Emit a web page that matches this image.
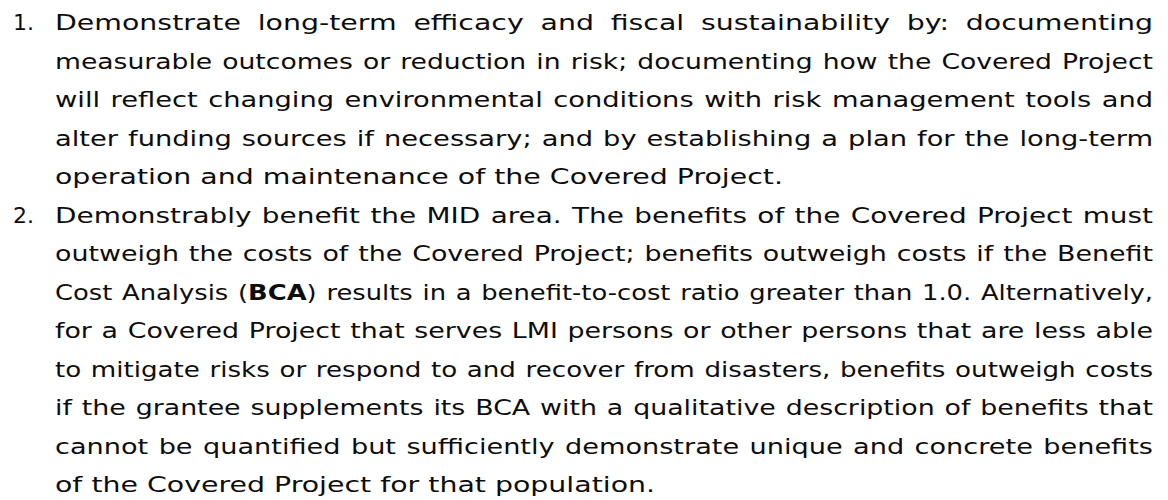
<!DOCTYPE html>
<html>
<head>
<meta charset="utf-8">
<script src="https://cdn.jsdelivr.net/npm/chart.js"></script>
<style>
  html, body { margin: 0; padding: 0; background: #fff; }
  body { width: 1168px; height: 500px; overflow: hidden; }
  #page {
    position: relative;
    padding-top: 4px;
    font-family: "DejaVu Sans", sans-serif;
    font-size: 22px;
    line-height: 38.5px;
    color: #0d0d0d;
  }
  .item { position: relative; }
  .num {
    position: absolute;
    left: 0;
    width: 34px;
    text-align: right;
  }
  .line {
    margin-left: 55px;
    white-space: nowrap;
    text-align: justify;
    text-align-last: justify;
    transform-origin: 0 0;
  }
  .line.last { text-align-last: left; }
  .probe { white-space: nowrap; }
</style>
</head>
<body>
<div id="page"></div>

<script>
var itemNumbers = ['1.', '2.'];

var item1Lines = [
    'Demonstrate long-term efficacy and fiscal sustainability by: documenting',
    'measurable outcomes or reduction in risk; documenting how the Covered Project',
    'will reflect changing environmental conditions with risk management tools and',
    'alter funding sources if necessary; and by establishing a plan for the long-term',
    'operation and maintenance of the Covered Project.'
];

var item2Lines = [
    'Demonstrably benefit the MID area. The benefits of the Covered Project must',
    'outweigh the costs of the Covered Project; benefits outweigh costs if the Benefit',
    'Cost Analysis (BCA) results in a benefit-to-cost ratio greater than 1.0. Alternatively,',
    'for a Covered Project that serves LMI persons or other persons that are less able',
    'to mitigate risks or respond to and recover from disasters, benefits outweigh costs',
    'if the grantee supplements its BCA with a qualitative description of benefits that',
    'cannot be quantified but sufficiently demonstrate unique and concrete benefits',
    'of the Covered Project for that population.'
];

// only the first "(BCA)" is bold in the source
var boldTerms = ['(BCA)'];

var TEXT_W = 1098;   // 55px .. 1153px

function toHtml(text) {
    var html = text;
    boldTerms.forEach(function (t) {
        var inner = t.replace('(', '').replace(')', '');
        html = html.replace(t, '(<b>' + inner + '</b>)');
    });
    return html;
}

function measure(page, html) {
    var probe = document.createElement('span');
    probe.className = 'probe';
    probe.innerHTML = html;
    page.appendChild(probe);
    var w = probe.getBoundingClientRect().width;
    page.removeChild(probe);
    return w;
}

var page = document.getElementById('page');

// the scan uses a wide geometric face; stretch the glyphs so the closing
// line of item 1 spans about 728px as it does in the scan
var stretch = 728 / measure(page, item1Lines[4]);

function addItem(num, lines) {
    var item = document.createElement('div');
    item.className = 'item';

    var n = document.createElement('div');
    n.className = 'num';
    n.textContent = num;
    item.appendChild(n);

    lines.forEach(function (text, i) {
        var last = i === lines.length - 1;
        var html = toHtml(text);
        var s = stretch;
        if (!last) {
            var w = measure(page, html);
            s = Math.min(stretch, TEXT_W * 0.985 / w);
        }
        var div = document.createElement('div');
        div.className = 'line' + (last ? ' last' : '');
        div.style.width = (TEXT_W / s) + 'px';
        div.style.transform = 'scaleX(' + s.toFixed(4) + ')';
        div.innerHTML = html;
        item.appendChild(div);
    });
    page.appendChild(item);
}

addItem(itemNumbers[0], item1Lines);
addItem(itemNumbers[1], item2Lines);
</script>
</body>
</html>
